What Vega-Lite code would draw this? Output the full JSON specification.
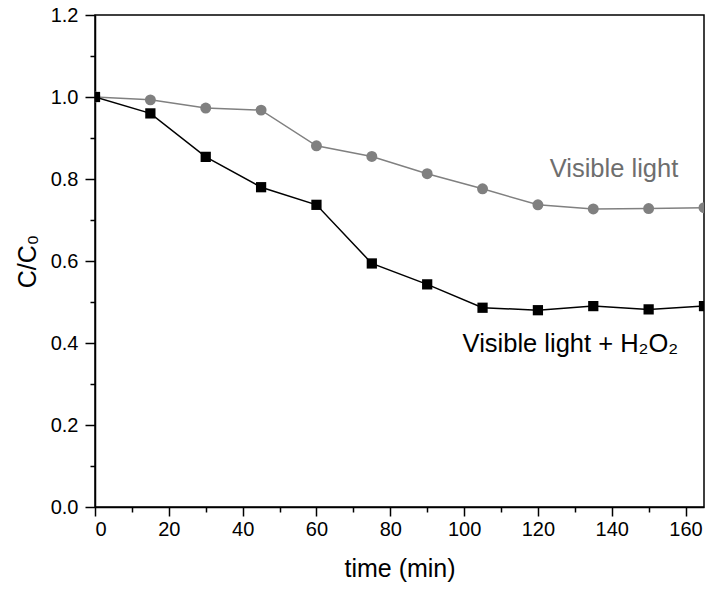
{
  "$schema": "https://vega.github.io/schema/vega-lite/v6.json",
  "autosize": {"type": "none"},
  "padding": {"left": 95, "top": 15, "right": 3, "bottom": 85},
  "width": 609,
  "height": 492,
  "config": {
    "font": "Liberation Sans",
    "view": {"stroke": "black", "strokeWidth": 1.5},
    "axis": {"grid": false, "domainColor": "black", "domainWidth": 1.5, "tickColor": "black", "tickWidth": 1.5, "labelColor": "black", "titleColor": "black", "labelFont": "Liberation Sans", "titleFont": "Liberation Sans", "titleFontWeight": "normal"}
  },
  "datasets": {
    "pts": [
      {"series": "Visible light", "time": 0, "value": 1.0},
      {"series": "Visible light", "time": 15, "value": 0.993},
      {"series": "Visible light", "time": 30, "value": 0.973},
      {"series": "Visible light", "time": 45, "value": 0.968},
      {"series": "Visible light", "time": 60, "value": 0.881},
      {"series": "Visible light", "time": 75, "value": 0.855},
      {"series": "Visible light", "time": 90, "value": 0.813},
      {"series": "Visible light", "time": 105, "value": 0.776},
      {"series": "Visible light", "time": 120, "value": 0.737},
      {"series": "Visible light", "time": 135, "value": 0.727},
      {"series": "Visible light", "time": 150, "value": 0.728},
      {"series": "Visible light", "time": 165, "value": 0.730},
      {"series": "Visible light + H2O2", "time": 0, "value": 1.0},
      {"series": "Visible light + H2O2", "time": 15, "value": 0.960},
      {"series": "Visible light + H2O2", "time": 30, "value": 0.854},
      {"series": "Visible light + H2O2", "time": 45, "value": 0.780},
      {"series": "Visible light + H2O2", "time": 60, "value": 0.737},
      {"series": "Visible light + H2O2", "time": 75, "value": 0.594},
      {"series": "Visible light + H2O2", "time": 90, "value": 0.543},
      {"series": "Visible light + H2O2", "time": 105, "value": 0.486},
      {"series": "Visible light + H2O2", "time": 120, "value": 0.480},
      {"series": "Visible light + H2O2", "time": 135, "value": 0.490},
      {"series": "Visible light + H2O2", "time": 150, "value": 0.482},
      {"series": "Visible light + H2O2", "time": 165, "value": 0.490}
    ],
    "labels": [
      {"label": "Visible light", "time": 123.2, "value": 0.805, "color": "gray"},
      {"label": "Visible light + H₂O₂", "time": 99.6, "value": 0.378, "color": "black"}
    ]
  },
  "layer": [
    {
      "data": {"name": "pts"},
      "transform": [{"filter": "datum.series === 'Visible light'"}],
      "mark": {"type": "line", "color": "#808080", "strokeWidth": 1.5, "clip": true},
      "encoding": {
        "x": {"field": "time", "type": "quantitative", "scale": {"domain": [0, 165], "nice": false, "zero": false}, "axis": {"values": [0, 20, 40, 60, 80, 100, 120, 140, 160], "tickSize": 9, "labelFontSize": 20, "labelPadding": 3, "title": "time (min)", "titleFontSize": 25, "titlePadding": 17}},
        "y": {"field": "value", "type": "quantitative", "scale": {"domain": [0, 1.2], "nice": false}, "axis": {"values": [0, 0.2, 0.4, 0.6, 0.8, 1.0, 1.2], "format": ".1f", "tickSize": 10, "labelFontSize": 20, "labelPadding": 7, "title": "C/C₀", "titleFontSize": 25, "titlePadding": 10}}
      }
    },
    {
      "data": {"name": "pts"},
      "transform": [{"filter": "datum.series === 'Visible light'"}],
      "mark": {"type": "point", "shape": "circle", "filled": true, "opacity": 1, "color": "#808080", "size": 120, "clip": true},
      "encoding": {
        "x": {"field": "time", "type": "quantitative", "axis": null},
        "y": {"field": "value", "type": "quantitative", "axis": null}
      }
    },
    {
      "data": {"name": "pts"},
      "transform": [{"filter": "datum.series === 'Visible light + H2O2'"}],
      "mark": {"type": "line", "color": "black", "strokeWidth": 1.5, "clip": true},
      "encoding": {
        "x": {"field": "time", "type": "quantitative", "axis": null},
        "y": {"field": "value", "type": "quantitative", "axis": null}
      }
    },
    {
      "data": {"name": "pts"},
      "transform": [{"filter": "datum.series === 'Visible light + H2O2'"}],
      "mark": {"type": "point", "shape": "square", "filled": true, "opacity": 1, "color": "black", "size": 105, "clip": true},
      "encoding": {
        "x": {"field": "time", "type": "quantitative", "axis": null},
        "y": {"field": "value", "type": "quantitative", "axis": null}
      }
    },
    {
      "data": {"name": "labels"},
      "mark": {"type": "text", "align": "left", "baseline": "alphabetic", "fontSize": 25.5, "font": "Liberation Sans"},
      "encoding": {
        "x": {"field": "time", "type": "quantitative", "axis": null},
        "y": {"field": "value", "type": "quantitative", "axis": null},
        "text": {"field": "label"},
        "color": {"field": "color", "type": "nominal", "scale": {"domain": ["gray", "black"], "range": ["#6e6e6e", "black"]}, "legend": null}
      }
    },
    {
      "data": {"values": [{"t": 10}, {"t": 30}, {"t": 50}, {"t": 70}, {"t": 90}, {"t": 110}, {"t": 130}, {"t": 150}]},
      "mark": {"type": "tick", "opacity": 0},
      "encoding": {
        "x": {"field": "t", "type": "quantitative", "axis": {"orient": "bottom", "values": [10, 30, 50, 70, 90, 110, 130, 150], "tickSize": 5, "labels": false, "domain": false, "title": null}}
      }
    },
    {
      "data": {"values": [{"v": 0.1}, {"v": 0.3}, {"v": 0.5}, {"v": 0.7}, {"v": 0.9}, {"v": 1.1}]},
      "mark": {"type": "tick", "opacity": 0},
      "encoding": {
        "y": {"field": "v", "type": "quantitative", "axis": {"orient": "left", "values": [0.1, 0.3, 0.5, 0.7, 0.9, 1.1], "tickSize": 5, "labels": false, "domain": false, "title": null}}
      }
    }
  ],
  "resolve": {"axis": {"x": "independent", "y": "independent"}}
}
